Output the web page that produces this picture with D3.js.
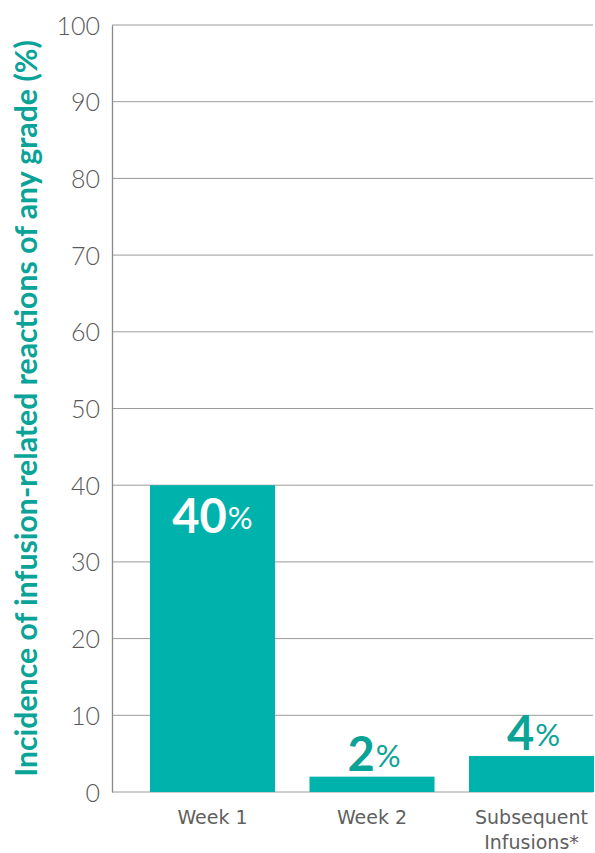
<!DOCTYPE html>
<html>
<head>
<meta charset="utf-8">
<script src="https://cdn.jsdelivr.net/npm/d3@7"></script>
<style>
  body { margin: 0; background: #fff; }
  svg { display: block; }
  text { font-family: "Lato", "Open Sans", sans-serif; }
</style>
</head>
<body>
<svg id="chart" width="595" height="853"></svg>
<script>
// chart data
var categories = ["Week 1", "Week 2", "Subsequent Infusions*"];
var values = [40, 2, 4.7];
var valueLabels = ["40", "2", "4"];
var yTicks = [0, 10, 20, 30, 40, 50, 60, 70, 80, 90, 100];
var yTitle = "Incidence of infusion-related reactions of any grade (%)";

var teal = "#00b2ac";
var tealText = "#0aa398";
var gray = "#595959";

var $svg = d3.select("#chart");
// note: "top" is reserved on window, so use plot* names
var plotLeft = 112, plotRight = 593, plotTop = 25, plotBottom = 792;

var y = d3.scaleLinear().domain([0, 100]).range([plotBottom, plotTop]);
var x = d3.scaleBand().domain(categories)
    .range([plotLeft, 632])
    .paddingInner(0.216)
    .paddingOuter(0.238);

// gridlines
$svg.append("g")
    .selectAll("line")
    .data(yTicks)
    .join("line")
    .attr("x1", plotLeft).attr("x2", plotRight)
    .attr("y1", d => y(d)).attr("y2", d => y(d))
    .attr("stroke", "#9a9a9a")
    .attr("stroke-width", 1);

// y axis line + tick labels
var yAxis = d3.axisLeft(y).tickValues(yTicks).tickSize(0).tickPadding(12);
var $yAxis = $svg.append("g")
    .attr("transform", `translate(${plotLeft},0)`)
    .call(yAxis);
$yAxis.select(".domain").attr("stroke", "#8a8a8a").attr("stroke-width", 1.3);
$yAxis.selectAll("text")
    .attr("font-size", 25)
    .attr("font-weight", 300)
    .attr("fill", gray)
    .attr("dy", "0.36em")
    .style("font-family", "Lato, sans-serif");

// bars
$svg.append("g")
    .selectAll("rect")
    .data(values)
    .join("rect")
    .attr("x", (d, i) => x(categories[i]))
    .attr("width", x.bandwidth())
    .attr("y", d => y(d))
    .attr("height", d => plotBottom - y(d))
    .attr("fill", teal);

// value labels: first inside the bar (white), others above (teal)
var $labels = $svg.append("g")
    .selectAll("text")
    .data(values)
    .join("text")
    .attr("text-anchor", "middle")
    .attr("x", (d, i) => x(categories[i]) + x.bandwidth() / 2 + (i == 0 ? 0 : 2))
    .attr("y", (d, i) => i == 0 ? y(d) + 48 : y(d) - 6)
    .attr("fill", (d, i) => i == 0 ? "#fff" : tealText);
$labels.append("tspan")
    .text((d, i) => valueLabels[i])
    .attr("font-size", 47)
    .attr("font-weight", 700);
$labels.append("tspan")
    .text("%")
    .attr("font-size", 31)
    .attr("font-weight", 400)
    .attr("dx", 1)
    .attr("dy", -4);

// x category labels
var $xl = $svg.append("g")
    .selectAll("text")
    .data(categories)
    .join("text")
    .attr("text-anchor", "middle")
    .attr("x", d => x(d) + x.bandwidth() / 2)
    .attr("y", 824)
    .attr("font-size", 19)
    .attr("fill", "#606060")
    .style("font-family", "'DejaVu Sans', sans-serif");
$xl.each(function(d) {
    let $t = d3.select(this);
    let parts = d == "Subsequent Infusions*" ? ["Subsequent", "Infusions*"] : [d];
    parts.forEach((p, j) => {
        $t.append("tspan")
            .attr("x", $t.attr("x"))
            .attr("dy", j == 0 ? 0 : 25)
            .text(p);
    });
});

// y title, sized to span most of the axis height
var $title = $svg.append("text")
    .attr("transform", `translate(37 408.5) rotate(-90)`)
    .attr("text-anchor", "middle")
    .attr("font-size", 22)
    .attr("font-weight", 700)
    .attr("fill", tealText)
    .text(yTitle);
var titleLen = $title.node().getComputedTextLength();
$title.attr("font-size", 22 * 737 / titleLen);
</script>
</body>
</html>
